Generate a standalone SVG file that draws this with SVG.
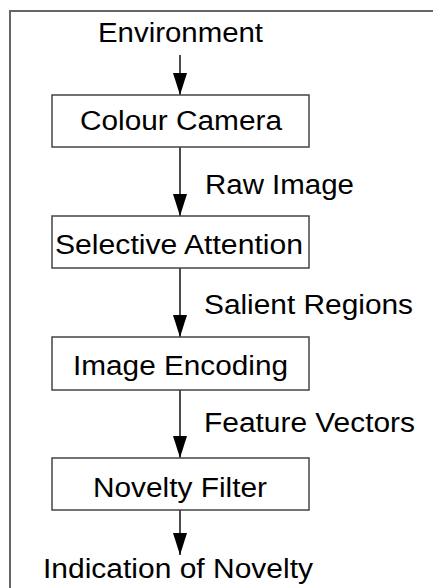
<svg xmlns="http://www.w3.org/2000/svg" width="433" height="588" viewBox="0 0 433 588">
  <style>
    .frame { fill: none; stroke: #666; stroke-width: 2; }
    .box { fill: #fff; stroke: #444; stroke-width: 1.5; }
    .lbl { font-family: "Liberation Sans", Arial, sans-serif; font-size: 27px; fill: #000; }
    .flow { stroke: #000; stroke-width: 1.4; fill: none; marker-end: url(#head); }
  </style>
  <defs>
    <marker id="head" markerWidth="22" markerHeight="14" refX="22" refY="7" viewBox="0 0 22 14" orient="auto" markerUnits="userSpaceOnUse">
      <path d="M0,0 L22,7 L0,14 Z" fill="#000"/>
    </marker>
  </defs>
  <rect width="433" height="588" fill="#fff"/>
  <!-- surrounding frame, open on the right and bottom -->
  <path class="frame" d="M10,600 L10,11 L445,11"/>

  <g id="connectors">
    <line class="flow" x1="180" y1="55" x2="180" y2="95"/>
    <line class="flow" x1="180" y1="147" x2="180" y2="216"/>
    <line class="flow" x1="180" y1="268" x2="180" y2="337"/>
    <line class="flow" x1="180" y1="390" x2="180" y2="458"/>
    <line class="flow" x1="180" y1="510" x2="180" y2="555"/>
    <text class="lbl" x="205" y="194" textLength="149" lengthAdjust="spacingAndGlyphs">Raw Image</text>
    <text class="lbl" x="204" y="314" textLength="209" lengthAdjust="spacingAndGlyphs">Salient Regions</text>
    <text class="lbl" x="204" y="432" textLength="211" lengthAdjust="spacingAndGlyphs">Feature Vectors</text>
  </g>

  <g id="environment">
    <text class="lbl" x="98" y="41.5" textLength="165" lengthAdjust="spacingAndGlyphs">Environment</text>
  </g>
  <g id="colour-camera">
    <rect class="box" x="52" y="95" width="257" height="52"/>
    <text class="lbl" x="80" y="130" textLength="202" lengthAdjust="spacingAndGlyphs">Colour Camera</text>
  </g>
  <g id="selective-attention">
    <rect class="box" x="52" y="216" width="257" height="52"/>
    <text class="lbl" x="55" y="254" textLength="248" lengthAdjust="spacingAndGlyphs">Selective Attention</text>
  </g>
  <g id="image-encoding">
    <rect class="box" x="52" y="337" width="257" height="53"/>
    <text class="lbl" x="73" y="375" textLength="215" lengthAdjust="spacingAndGlyphs">Image Encoding</text>
  </g>
  <g id="novelty-filter">
    <rect class="box" x="52" y="458" width="257" height="52"/>
    <text class="lbl" x="93" y="497" textLength="174" lengthAdjust="spacingAndGlyphs">Novelty Filter</text>
  </g>
  <g id="indication">
    <text class="lbl" x="43" y="578" textLength="270" lengthAdjust="spacingAndGlyphs">Indication of Novelty</text>
  </g>
</svg>
